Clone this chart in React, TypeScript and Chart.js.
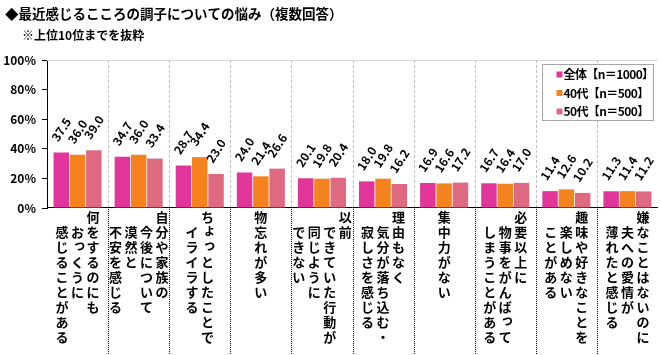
import React, { useEffect, useRef } from 'react';
import { Chart, registerables } from 'chart.js';

Chart.register(...registerables);

const TITLE = '◆最近感じるこころの調子についての悩み（複数回答）';
const SUBTITLE = '※上位10位までを抜粋';

const categories: string[][] = [
  ['何をするのにも', 'おっくうに', '感じることがある'],
  ['自分や家族の', '今後について', '漠然と', '不安を感じる'],
  ['ちょっとしたことで', 'イライラする'],
  ['物忘れが多い'],
  ['以前', 'できていた行動が', '同じように', 'できない'],
  ['理由もなく', '気分が落ち込む・', '寂しさを感じる'],
  ['集中力がない'],
  ['必要以上に', '物事をがんばって', 'しまうことがある'],
  ['趣味や好きなことを', '楽しめない', 'ことがある'],
  ['嫌なことはないのに', '夫への愛情が', '薄れたと感じる'],
];

const seriesNames = ['全体【n＝1000】', '40代【n＝500】', '50代【n＝500】'];
const allValues = [37.5, 34.7, 28.7, 24.0, 20.1, 18.0, 16.9, 16.7, 11.4, 11.3];
const age40Values = [36.0, 36.0, 34.4, 21.4, 19.8, 19.8, 16.6, 16.4, 12.6, 11.4];
const age50Values = [39.0, 33.4, 23.0, 26.6, 20.4, 16.2, 17.2, 17.0, 10.2, 11.2];
const yTicks = [0, 20, 40, 60, 80, 100];
const seriesColors = ['#E2359C', '#F4821E', '#DD6A81'];

const FONT = "'Noto Sans CJK JP', 'Noto Sans', sans-serif";
const SMALL_KANA = 'ぁぃぅぇぉっゃゅょゎァィゥェォッャュョ';

const decorPlugin = {
  id: 'decor',
  beforeDatasetsDraw(chart: any) {
    const { ctx, chartArea: ca } = chart;
    const n = categories.length;
    const w = (ca.right - ca.left) / n;
    ctx.save();
    ctx.strokeStyle = '#D9D9D9';
    ctx.lineWidth = 1;
    ctx.beginPath();
    const ty = Math.round(ca.top) + 0.5;
    ctx.moveTo(ca.left, ty);
    ctx.lineTo(ca.right, ty);
    ctx.stroke();
    for (let i = 1; i < n; i++) {
      const x = Math.round(ca.left + w * i) + 0.5;
      ctx.strokeStyle = '#BFBFBF';
      ctx.setLineDash([3, 2]);
      ctx.beginPath();
      ctx.moveTo(x, ca.top);
      ctx.lineTo(x, ca.bottom);
      ctx.stroke();
      ctx.strokeStyle = '#000';
      ctx.setLineDash([1, 1]);
      ctx.beginPath();
      ctx.moveTo(x, ca.bottom + 1);
      ctx.lineTo(x, chart.height);
      ctx.stroke();
    }
    ctx.setLineDash([]);
    ctx.strokeStyle = '#000';
    ctx.beginPath();
    const by = Math.round(ca.bottom) - 0.5;
    ctx.moveTo(ca.left, by);
    ctx.lineTo(ca.right, by);
    ctx.stroke();
    ctx.restore();
  },
  afterDatasetsDraw(chart: any) {
    const { ctx } = chart;
    ctx.save();
    ctx.font = `bold 12px ${FONT}`;
    ctx.fillStyle = '#000';
    ctx.textAlign = 'center';
    ctx.textBaseline = 'middle';
    chart.data.datasets.forEach((ds: any, di: number) => {
      const meta = chart.getDatasetMeta(di);
      meta.data.forEach((el: any, i: number) => {
        const v = ds.data[i];
        ctx.save();
        ctx.translate(el.x, el.y - 23);
        ctx.rotate((-57 * Math.PI) / 180);
        ctx.fillText(v.toFixed(1), 0, 0);
        ctx.restore();
      });
    });
    ctx.restore();
  },
  afterDraw(chart: any) {
    const { ctx, chartArea: ca } = chart;
    ctx.save();
    ctx.fillStyle = '#000';
    ctx.textBaseline = 'middle';
    ctx.textAlign = 'left';
    ctx.font = `bold 13.5px ${FONT}`;
    ctx.fillText(TITLE, 5, 14);
    ctx.font = `bold 12px ${FONT}`;
    ctx.fillText(SUBTITLE, 22, 35);

    const n = categories.length;
    const w = (ca.right - ca.left) / n;
    const step = 15;
    const colGap = 15.5;
    const fs = 13;
    ctx.font = `bold ${fs}px ${FONT}`;
    ctx.textAlign = 'center';
    categories.forEach((lines, i) => {
      const cx = ca.left + w * (i + 0.5);
      const k = lines.length;
      lines.forEach((line, j) => {
        const x = cx + ((k - 1) / 2 - j) * colGap;
        const y0 = ca.bottom + 9 + (j === 0 ? 0 : step);
        Array.from(line).forEach((c, m) => {
          let dx = 0;
          let dy = 0;
          if (SMALL_KANA.includes(c)) {
            dx = 2;
            dy = -3;
          }
          ctx.fillText(c, x + dx, y0 + m * step + dy);
        });
      });
    });

    const boxW = 111;
    const boxH = 56;
    const bx = Math.round(ca.right - 5 - boxW) + 0.5;
    const byy = Math.round(ca.top + 4) + 0.5;
    ctx.fillStyle = '#fff';
    ctx.fillRect(bx, byy, boxW, boxH);
    ctx.strokeStyle = '#A6A6A6';
    ctx.lineWidth = 1;
    ctx.strokeRect(bx, byy, boxW, boxH);
    ctx.font = `bold 12px ${FONT}`;
    ctx.textAlign = 'left';
    try {
      (ctx as any).letterSpacing = '-0.6px';
    } catch (e) {
      /* ignore */
    }
    chart.data.datasets.forEach((ds: any, di: number) => {
      const yy = byy + 10 + di * 18.5;
      ctx.fillStyle = ds.backgroundColor;
      ctx.fillRect(bx + 14, yy - 3, 6, 6);
      ctx.fillStyle = '#000';
      ctx.fillText(ds.label, bx + 21, yy);
    });
    try {
      (ctx as any).letterSpacing = '0px';
    } catch (e) {
      /* ignore */
    }
    ctx.restore();
  },
};

export default function App() {
  const ref = useRef<HTMLCanvasElement | null>(null);
  useEffect(() => {
    if (!ref.current) return;
    const seriesValues = [allValues, age40Values, age50Values];
    const chart = new Chart(ref.current, {
      type: 'bar',
      data: {
        labels: categories.map((c) => c.join('')),
        datasets: seriesNames.map((name, i) => ({
          label: name,
          data: seriesValues[i],
          backgroundColor: seriesColors[i],
          borderWidth: 0,
          categoryPercentage: 0.8,
          barPercentage: 0.95,
        })),
      },
      options: {
        responsive: false,
        animation: false,
        devicePixelRatio: 1,
        layout: { padding: { top: 60, bottom: 147, left: 0, right: 3 } },
        plugins: {
          legend: { display: false },
          tooltip: { enabled: false },
          title: { display: false },
        },
        scales: {
          x: {
            type: 'category',
            display: false,
            offset: true,
          },
          y: {
            min: 0,
            max: 100,
            afterFit: (s: any) => {
              s.width = 47;
            },
            afterBuildTicks: (s: any) => {
              s.ticks = yTicks.map((v) => ({ value: v }));
            },
            ticks: {
              font: { family: FONT, size: 12, weight: 'bold' },
              color: '#000',
              padding: 6,
              callback: (v: any) => `${v}%`,
            },
            grid: {
              drawOnChartArea: false,
              drawTicks: true,
              tickLength: 5,
              color: '#000',
            },
            border: { color: '#000', width: 1 },
          },
        },
      },
      plugins: [decorPlugin],
    } as any);
    return () => chart.destroy();
  }, []);
  return (
    <div style={{ position: 'fixed', left: 0, top: 0, width: 661, height: 355, background: '#fff' }}>
      <canvas ref={ref} width={661} height={355} style={{ width: 661, height: 355, display: 'block' }} />
    </div>
  );
}
